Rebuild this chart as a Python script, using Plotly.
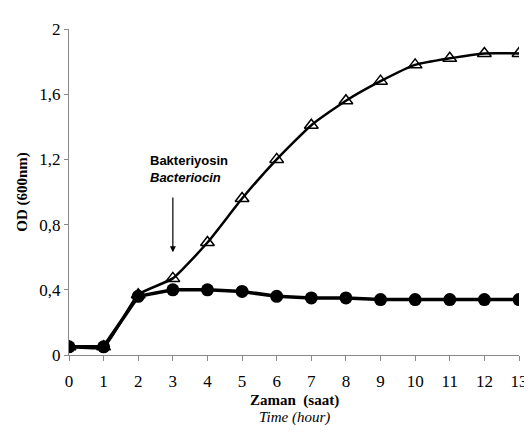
import plotly.graph_objects as go

hours = list(range(14))
control_od = [0.05, 0.05, 0.37, 0.47, 0.69, 0.96, 1.20, 1.41, 1.56, 1.68, 1.78, 1.82, 1.85, 1.85]
bacteriocin_od = [0.05, 0.05, 0.36, 0.40, 0.40, 0.39, 0.36, 0.35, 0.35, 0.34, 0.34, 0.34, 0.34, 0.34]
y_ticks = [0, 0.4, 0.8, 1.2, 1.6, 2]
y_tick_labels = ["0", "0,4", "0,8", "1,2", "1,6", "2"]

serif = "Liberation Serif, Times New Roman, serif"
sans = "Liberation Sans Narrow, Arial Narrow, Liberation Sans, Arial, sans-serif"

fig = go.Figure()
fig.add_trace(go.Scatter(
    x=hours, y=control_od, mode="lines+markers",
    line=dict(color="black", width=2.5, shape="spline", smoothing=0.5),
    marker=dict(symbol="triangle-up-open", size=12, color="black", line=dict(width=1.5)),
    showlegend=False,
))
fig.add_trace(go.Scatter(
    x=hours, y=bacteriocin_od, mode="lines+markers",
    line=dict(color="black", width=3.5),
    marker=dict(symbol="circle", size=13, color="black"),
    showlegend=False,
))

fig.add_annotation(
    x=3, y=0.63, ax=3, ay=0.975, xref="x", yref="y", axref="x", ayref="y",
    showarrow=True, arrowhead=2, arrowsize=1, arrowwidth=1.2, arrowcolor="black", text="",
)
fig.add_annotation(
    x=2.27, y=1.14, xref="x", yref="y", showarrow=False, xanchor="left",
    text="<b>Bakteriyosin</b><br><b><i>Bacteriocin</i></b>",
    font=dict(family=sans, size=13, color="black"), align="left",
)

fig.add_annotation(
    x=0.5, y=-0.172, xref="paper", yref="paper", showarrow=False,
    text="<b>Zaman  (saat)</b>", font=dict(family=serif, size=15, color="black"),
)
fig.add_annotation(
    x=0.5, y=-0.224, xref="paper", yref="paper", showarrow=False,
    text="<i>Time (hour)</i>", font=dict(family=serif, size=15, color="black"),
)

fig.update_layout(
    width=532, height=443,
    margin=dict(l=61, r=17, t=15, b=96),
    paper_bgcolor="white", plot_bgcolor="white",
    xaxis=dict(
        range=[0, 13], tickvals=hours, ticks="outside", ticklen=5, tickcolor="#888",
        ticklabelstandoff=6,
        showline=True, linecolor="#888", linewidth=1, showgrid=False, zeroline=False,
        tickfont=dict(family=serif, size=17, color="black"),
    ),
    yaxis=dict(
        range=[0, 2], tickvals=y_ticks, ticktext=y_tick_labels, ticks="outside", ticklen=4,
        tickcolor="#888", showline=True, linecolor="#888", linewidth=1, showgrid=False,
        zeroline=False, tickfont=dict(family=serif, size=17, color="black"),
        title=dict(text="<b>OD (600nm)</b>", font=dict(family=serif, size=15, color="black"), standoff=8),
    ),
)

fig.write_html("out.html")
